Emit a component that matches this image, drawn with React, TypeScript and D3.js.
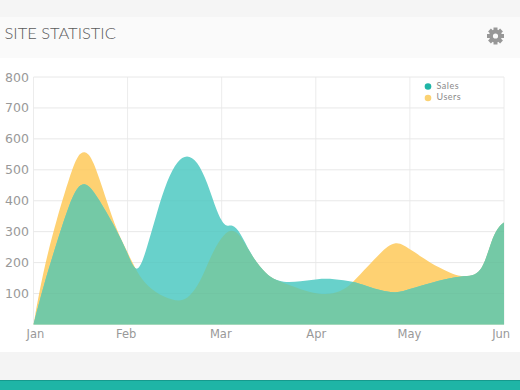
import React from "react";
import * as d3 from "d3";

const monthLabels = ["Jan", "Feb", "Mar", "Apr", "May", "Jun"];
const monthLabelPos = [0.02, 0.985, 1.99, 3.005, 3.995, 4.97];
const yTicks = [100, 200, 300, 400, 500, 600, 700, 800];

const salesPos = [0, 0, 0.1, 0.25, 0.39, 0.47, 0.55, 0.63, 0.78, 0.89, 0.99, 1.1, 1.21, 1.31, 1.42, 1.53, 1.63, 1.74, 1.85, 1.95, 2.04, 2.11, 2.2, 2.3, 2.41, 2.52, 2.65, 2.84, 3.02, 3.19, 3.4, 3.55, 3.69, 3.85, 4.01, 4.22, 4.51, 4.64, 4.73, 4.8, 4.86, 4.93, 5, 5];
const salesVal = [0, 0, 119, 268, 398, 447, 458, 436, 361, 300, 240, 148, 252, 361, 468, 530, 550, 530, 458, 361, 312, 326, 297, 232, 184, 150, 135, 139, 148, 148, 139, 123, 110, 100, 116, 135, 156, 156, 166, 203, 265, 313, 330, 330];

const usersPos = [0, 0, 0.1, 0.25, 0.39, 0.47, 0.55, 0.63, 0.78, 0.89, 0.99, 1.1, 1.21, 1.38, 1.56, 1.66, 1.77, 1.88, 1.99, 2.1, 2.2, 2.3, 2.41, 2.52, 2.65, 2.84, 3.02, 3.19, 3.32, 3.4, 3.55, 3.69, 3.76, 3.85, 3.93, 4.04, 4.22, 4.4, 4.51, 4.64, 4.73, 4.8, 4.86, 4.93, 5, 5];
const usersVal = [0, 0, 171, 345, 484, 550, 562, 538, 397, 300, 240, 168, 123, 88, 72, 90, 135, 219, 281, 312, 290, 232, 184, 150, 135, 113, 98, 98, 116, 139, 187, 232, 252, 266, 258, 236, 198, 171, 156, 156, 166, 203, 265, 313, 330, 330];

const legendNames = ["Sales", "Users"];
const legendColors = ["#1fb5a6", "#fbd273"];

const x = d3.scaleLinear().domain([0, 5]).range([33.5, 504]);
const y = d3.scaleLinear().domain([0, 800]).range([324.5, 77]);

const area = d3
  .area<[number, number]>()
  .x((d) => x(d[0]))
  .y0(y(0))
  .y1((d) => y(d[1]))
  .curve(d3.curveBasis);

const salesPath = area(salesPos.map((p, i) => [p, salesVal[i]] as [number, number])) as string;
const usersPath = area(usersPos.map((p, i) => [p, usersVal[i]] as [number, number])) as string;

const gearTeeth = d3.range(8).map((i) => i * 45);
const labelFont = "'DejaVu Sans', sans-serif";

export default function App() {
  return (
    <svg width={520} height={390} style={{ position: "absolute", left: 0, top: 0, display: "block" }}>
      <rect x={0} y={0} width={520} height={390} fill="#ffffff" />
      <rect x={0} y={0} width={520} height={17} fill="#f5f5f5" />
      <rect x={0} y={17} width={520} height={41} fill="#fafafa" />
      <rect x={0} y={352} width={520} height={28} fill="#f4f4f4" />
      <rect x={0} y={380} width={520} height={10} fill="#1fb5a6" />
      <rect x={0} y={380} width={520} height={1} fill="#169a8d" />

      <text x={4.5} y={39} fontFamily="Lato, sans-serif" fontSize={16.5} fontWeight={300} fill="#5c5c5c">
        SITE STATISTIC
      </text>

      <g transform="translate(495.5,36)" fill="#979797">
        {gearTeeth.map((a) => (
          <rect key={a} x={-2} y={-8.5} width={4} height={5} transform={`rotate(${a})`} />
        ))}
        <path
          d={d3.arc()({ innerRadius: 2.6, outerRadius: 6.4, startAngle: 0, endAngle: 2 * Math.PI }) as string}
        />
      </g>

      <defs>
        <clipPath id="salesClip">
          <path d={salesPath} />
        </clipPath>
      </defs>

      {yTicks.map((t) => (
        <line key={t} x1={x(0)} x2={x(5)} y1={y(t)} y2={y(t)} stroke="#ececec" strokeWidth={1} />
      ))}
      {monthLabels.map((m, i) => (
        <line key={m} x1={x(i)} x2={x(i)} y1={y(800)} y2={y(0)} stroke="#ececec" strokeWidth={1} />
      ))}

      <path d={usersPath} fill="#fed172" />
      <path d={salesPath} fill="#68d1cb" />
      <path d={usersPath} fill="#74c9a6" clipPath="url(#salesClip)" />

      {yTicks.map((t) => (
        <line key={t} x1={x(0)} x2={x(5)} y1={y(t)} y2={y(t)} stroke="#000" strokeOpacity={0.02} strokeWidth={1} />
      ))}

      {yTicks.map((t) => (
        <text key={t} x={5} y={y(t) + 4.5} fontFamily={labelFont} fontSize={12.5} fill="#999999">
          {t}
        </text>
      ))}
      {monthLabels.map((m, i) => (
        <text
          key={m}
          x={x(monthLabelPos[i])}
          y={337.5}
          textAnchor="middle"
          fontFamily={labelFont}
          fontSize={11.5}
          fill="#999999"
        >
          {m}
        </text>
      ))}

      {legendNames.map((n, i) => (
        <g key={n}>
          <circle cx={428} cy={86.5 + i * 11.5} r={3.3} fill={legendColors[i]} />
          <text
            x={436.5}
            y={88.5 + i * 11.5}
            fontFamily="Lato, sans-serif"
            fontSize={9}
            fontWeight={400}
            letterSpacing={0.5}
            fill="#8a8a8a"
          >
            {n}
          </text>
        </g>
      ))}
    </svg>
  );
}
